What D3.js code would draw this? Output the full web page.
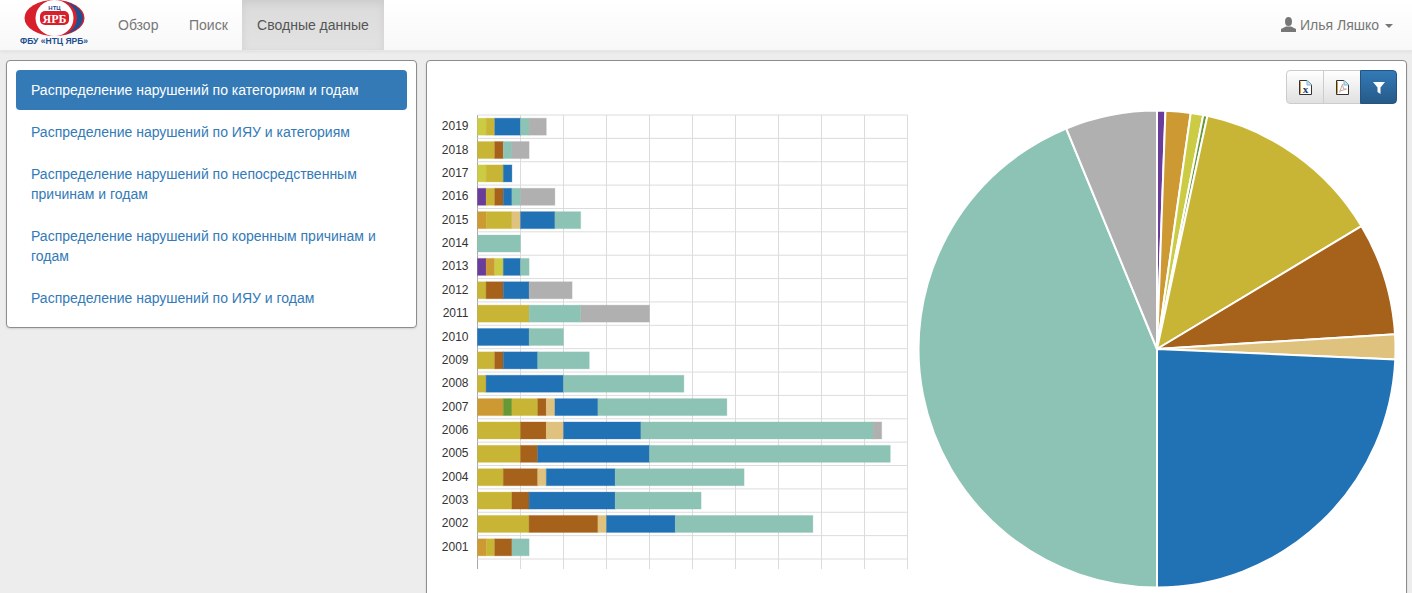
<!DOCTYPE html>
<html lang="ru">
<head>
  <meta charset="UTF-8">
  <title>Распределение нарушений</title>
  <style>
    html, body { margin: 0; padding: 0; overflow: hidden; }
    body { width: 1412px; height: 593px; background: #ededed; font: 14px "Liberation Sans", Arial, sans-serif; position: relative; }
    #navbar { position: absolute; left: 0; top: 0; width: 1412px; height: 50px; background: linear-gradient(#fff, #f8f8f8); border-bottom: 1px solid #e7e7e7; box-shadow: 0 1px 3px rgba(0,0,0,.06); }
    #navbar a { position: absolute; top: 0; line-height: 50px; color: #777; }
    #navbar a.active { left: 242px; width: 142px; text-align: center; color: #555; background: linear-gradient(#dbdbdb, #e2e2e2); box-shadow: inset 0 3px 9px rgba(0,0,0,.075); height: 50px; }
    #logo { position: absolute; left: 15px; top: 0; }
    #user { position: absolute; left: 1281px; top: 0; line-height: 50px; color: #777; white-space: nowrap; }
    #user svg { position: absolute; left: 0; top: 17px; }
    #user span { margin-left: 19px; }
    #user i { display: inline-block; margin-left: 6px; vertical-align: middle; border-top: 4px solid #777; border-left: 4px solid transparent; border-right: 4px solid transparent; }
    .panel { position: absolute; background: #fff; border: 1px solid #8d8d8d; border-radius: 4px; box-shadow: 0 1px 2px rgba(0,0,0,.12); box-sizing: border-box; }
    #left { left: 6px; top: 60px; width: 411px; height: 268px; }
    #left div { position: absolute; left: 9px; width: 391px; box-sizing: border-box; padding: 0 15px; color: #337ab7; line-height: 20px; }
    #left div.active { top: 9px; height: 40px; line-height: 40px; background: #337ab7; color: #fff; border-radius: 4px; }
    #right { left: 426px; top: 60px; width: 981px; height: 560px; }
    #buttons { position: absolute; left: 1286px; top: 70px; width: 111px; height: 34px; }
    .btn { position: absolute; top: 0; height: 34px; box-sizing: border-box; background: linear-gradient(#fff, #e0e0e0); border: 1px solid #ccc; }
    #chart { position: absolute; left: 0; top: 0; }
  </style>
  <script src="https://d3js.org/d3.v7.min.js"></script>
</head>
<body>
  <div id="navbar">
    <svg id="logo" width="80" height="50">
      <ellipse cx="39.500" cy="18" rx="30" ry="18" fill="#d8202c"></ellipse>
      <path d="M50 1.500 A30 18 0 0 1 50 34.500 A20 18 0 0 0 50 1.500 Z" fill="#1d4f91"></path>
      <path d="M29 4 A22 18 0 0 0 29 32 A16 18 0 0 1 29 4 Z" fill="#1d4f91"></path>
      <ellipse cx="39.500" cy="18" rx="19" ry="18" fill="#fff"></ellipse>
      <text x="39.500" y="9.500" text-anchor="middle" font-size="6" font-weight="bold" fill="#1d4f91">НТЦ</text>
      <rect x="25" y="11" width="29" height="14" rx="5" fill="#d8202c"></rect>
      <text x="39.500" y="22.500" text-anchor="middle" font-size="12" font-weight="bold" font-family="Liberation Serif" fill="#fff">ЯРБ</text>
      <text x="39" y="44" text-anchor="middle" font-size="8.500" font-weight="bold" fill="#1d4f91">ФБУ «НТЦ ЯРБ»</text>
    </svg>
    <a style="left:118px">Обзор</a>
    <a style="left:189px">Поиск</a>
    <a class="active">Сводные данные</a>
    <div id="user">
      <svg width="15" height="15" viewBox="0 0 15 15"><ellipse cx="7.500" cy="4.500" rx="3.500" ry="4.500" fill="#777"></ellipse><path d="M0 15 V12 L5 9.500 H10 L15 12 V15 Z" fill="#777"></path></svg>
      <span>Илья Ляшко</span><i></i>
    </div>
  </div>

  <div class="panel" id="left">
    <div class="active">Распределение нарушений по категориям и годам</div>
    <div style="top:61px">Распределение нарушений по ИЯУ и категориям</div>
    <div style="top:103px">Распределение нарушений по непосредственным<br>причинам и годам</div>
    <div style="top:165px">Распределение нарушений по коренным причинам и<br>годам</div>
    <div style="top:227px">Распределение нарушений по ИЯУ и годам</div>
  </div>

  <div class="panel" id="right"></div>

  <div id="buttons">
    <div class="btn" style="left:0;width:38px;border-radius:4px 0 0 4px">
      <svg width="36" height="32"><path d="M12.500 9.500 H20 L24.500 14 V23.500 H12.500 Z" fill="#fff" stroke="#333"></path><path d="M13.500 10.500 V22.500" stroke="#d99a3a"></path><path d="M20 9.500 V14 H24.500" fill="#bfe3f5" stroke="#7fb8dc"></path><text x="18.500" y="22" text-anchor="middle" font-size="11" font-weight="bold" font-family="Liberation Serif" fill="#223a70">x</text></svg>
    </div>
    <div class="btn" style="left:37px;width:38px;border-radius:0">
      <svg width="36" height="32"><path d="M12.500 9.500 H20 L24.500 14 V23.500 H12.500 Z" fill="#fff" stroke="#333"></path><path d="M13.500 10.500 V22.500" stroke="#d99a3a"></path><path d="M20 9.500 V14 H24.500" fill="#bfe3f5" stroke="#7fb8dc"></path><path d="M15.500 21.500 L18.500 13 L19.500 18 H22.500 L16 20" fill="none" stroke="#c9a79f"></path></svg>
    </div>
    <div class="btn" style="left:74px;width:37px;border-radius:0 4px 4px 0;background:linear-gradient(#337ab7,#265a88);border-color:#245580">
      <svg width="35" height="32"><path d="M12 11 H24 L19.500 16.500 V23 L16.500 21 V16.500 Z" fill="#fff"></path></svg>
    </div>
  </div>

  <svg id="chart" width="1412" height="593"></svg>

  <script>
    const years = ["2019","2018","2017","2016","2015","2014","2013","2012","2011","2010","2009","2008","2007","2006","2005","2004","2003","2002","2001"];
    const categories = ["purple","orange","lime","green","gold","brown","tan","blue","teal","grey"];
    const colors = ["#6a3d9a","#cc9933","#cccc44","#669933","#c9b535","#a6611a","#dfc27d","#2171b5","#8dc3b5","#b0b0b0"];

    // one list per category, same order as years
    const purple = [0,0,0,1,0,0,1,0,0,0,0,0,0,0,0,0,0,0,0];
    const orange = [0,0,0,0,1,0,1,0,0,0,0,0,3,0,0,0,0,0,1];
    const lime   = [1,0,1,0,0,0,1,0,0,0,0,0,0,0,0,0,0,0,0];
    const green  = [0,0,0,0,0,0,0,0,0,0,0,0,1,0,0,0,0,0,0];
    const gold   = [1,2,2,1,3,0,0,1,6,0,2,1,3,5,5,3,4,6,1];
    const brown  = [0,1,0,1,0,0,0,2,0,0,1,0,1,3,2,4,2,8,2];
    const tan    = [0,0,0,0,1,0,0,0,0,0,0,0,1,2,0,1,0,1,0];
    const blue   = [3,0,1,1,4,0,2,3,0,6,4,9,5,9,13,8,10,8,0];
    const teal   = [1,1,0,1,3,5,1,0,6,4,6,14,15,27,28,15,10,16,2];
    const grey   = [2,2,0,4,0,0,0,5,8,0,0,0,0,1,0,0,0,0,0];
    const xTicks = [0,5,10,15,20,25,30,35,40,45,50];

    const series = [purple, orange, lime, green, gold, brown, tan, blue, teal, grey];
    const table = years.map((y, i) => {
      const row = { year: y };
      categories.forEach((c, j) => { row[c] = series[j][i]; });
      return row;
    });

    const svg = d3.select("#chart");

    const x = d3.scaleLinear().domain([0, 50]).range([477.5, 907.5]);
    const y = d3.scaleBand().domain(years).range([115, 559]);

    // grid
    const grid = svg.append("g");
    grid.selectAll("line.v").data(xTicks).enter().append("line")
      .attr("x1", d => x(d)).attr("x2", d => x(d))
      .attr("y1", 115).attr("y2", 569)
      .attr("stroke", d => d === 0 ? "#a8a8a8" : "#dcdcdc");
    grid.selectAll("line.h").data(years.concat(["end"])).enter().append("line")
      .attr("x1", x(0)).attr("x2", x(50))
      .attr("y1", d => d === "end" ? y.range()[1] : y(d))
      .attr("y2", d => d === "end" ? y.range()[1] : y(d))
      .attr("stroke", "#dcdcdc");

    // stacked bars
    const stack = d3.stack().keys(categories)(table);
    svg.append("g").selectAll("g").data(stack).enter().append("g")
      .attr("fill", (d, i) => colors[i])
      .attr("stroke", (d, i) => colors[i])
      .attr("stroke-opacity", 0.3)
      .selectAll("rect").data(d => d.filter(s => s[1] > s[0])).enter().append("rect")
      .attr("x", d => x(d[0]))
      .attr("width", d => x(d[1]) - x(d[0]))
      .attr("y", d => y(d.data.year) + (y.bandwidth() - 17) / 2)
      .attr("height", 17);

    // year labels
    svg.append("g").selectAll("text").data(years).enter().append("text")
      .attr("x", 468.500)
      .attr("y", d => y(d) + y.bandwidth() / 2 + 3.500)
      .attr("text-anchor", "end")
      .attr("font-size", 12)
      .attr("fill", "#333")
      .text(d => d);

    // pie: totals of each category
    const totals = series.map(s => d3.sum(s));
    const pie = d3.pie().sort(null)(totals);
    const arc = d3.arc().innerRadius(0).outerRadius(238.500);
    svg.append("g")
      .attr("transform", "translate(1157,349)")
      .selectAll("path").data(pie).enter().append("path")
      .attr("d", arc)
      .attr("fill", (d, i) => colors[i])
      .attr("stroke", "#fff")
      .attr("stroke-width", 2);
  </script>
</body>
</html>
